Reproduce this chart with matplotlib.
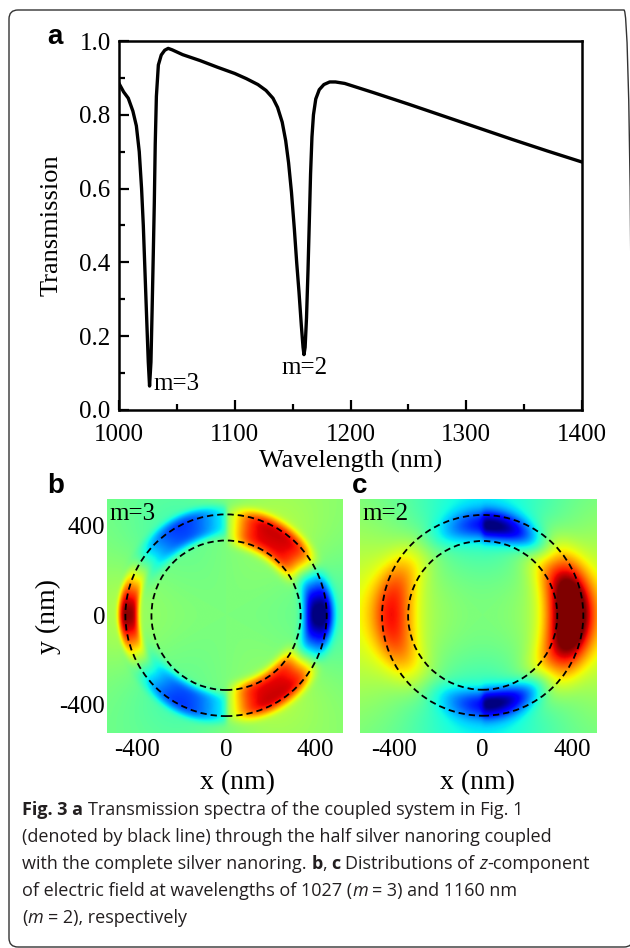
import numpy as np
import matplotlib
matplotlib.use("Agg")
import matplotlib.pyplot as plt
from matplotlib.patches import Circle, FancyBboxPatch

plt.rcParams['axes.unicode_minus'] = False

# Transmission spectrum (panel a)
wavelength = [1000, 1004, 1008, 1012, 1015, 1017.5, 1019.5, 1021, 1022.5, 1024,
              1025.3, 1026.4, 1027.6, 1028.6, 1029.6, 1030.5, 1031.3, 1032.3, 1034,
              1036.5, 1039.5, 1042.5, 1046, 1055, 1070, 1085, 1100, 1110, 1120,
              1127, 1133, 1137, 1141, 1144, 1146.5, 1149, 1151.5, 1153.5, 1155.5,
              1157.5, 1159, 1159.8, 1160.8, 1162, 1163.3, 1164.5, 1165.5, 1166.7,
              1168, 1170, 1173, 1177, 1182, 1187, 1195, 1220, 1250, 1280, 1310,
              1340, 1370, 1400]
transmission = [0.885, 0.862, 0.845, 0.81, 0.77, 0.70, 0.60, 0.50, 0.37, 0.24,
                0.13, 0.065, 0.13, 0.27, 0.42, 0.56, 0.72, 0.85, 0.935,
                0.962, 0.975, 0.98, 0.976, 0.963, 0.947, 0.929, 0.912, 0.898, 0.882,
                0.866, 0.845, 0.82, 0.78, 0.73, 0.67, 0.59, 0.49, 0.40, 0.32,
                0.23, 0.17, 0.15, 0.17, 0.25, 0.38, 0.52, 0.64, 0.74,
                0.80, 0.843, 0.868, 0.882, 0.889, 0.889, 0.885, 0.860, 0.829, 0.797, 0.765,
                0.733, 0.702, 0.672]

# ring geometry (nm)
r_inner = 335
r_outer = 452

# Ez lobes for m=3 (panel b): centre angle (deg), centre radius (nm),
# amplitude on the x>0 / x<0 side, angular and radial widths with their exponents
b_theta = [57, -57, 0, 117, -117, 180]
b_rad = [395, 395, 415, 420, 420, 440]
b_amp_right = [0.75, 0.75, -0.95, 0.0, 0.0, 0.85]
b_amp_left = [0.0, 0.0, -0.95, -0.5, -0.5, 0.85]
b_wth = [27, 27, 22, 30, 30, 22]
b_pth = [4, 4, 2, 2, 2, 2]
b_wr = [85, 85, 65, 70, 70, 45]
b_pr = [4, 4, 3, 4, 4, 4]
b_extent = (-536, 524, -530, 521)

# Ez lobes for m=2 (panel c)
c_theta = [0, 180, 82, -82]
c_rad = [390, 400, 400, 400]
c_amp_right = [1.1, 0.5, -0.8, -0.8]
c_amp_left = [1.1, 0.5, -0.5, -0.5]
c_wth = [45, 45, 35, 35]
c_pth = [2, 2, 2, 2]
c_wr = [100, 90, 65, 65]
c_pr = [2, 2, 2, 2]
c_extent = (-551, 512, -532, 524)

# weak mode tails away from the ring: (m, sign, inner amp, outer amp, decay length)
b_tail = (3, -1, 0.05, 0.15, 250)
c_tail = (2, 1, 0.20, 0.35, 350)

caption = [
    [("Fig. 3 a", "bold", "normal"), (" Transmission spectra of the coupled system in Fig. 1", "normal", "normal")],
    [("(denoted by black line) through the half silver nanoring coupled", "normal", "normal")],
    [("with the complete silver nanoring. ", "normal", "normal"), ("b", "bold", "normal"),
     (", ", "normal", "normal"), ("c", "bold", "normal"), (" Distributions of ", "normal", "normal"),
     ("z", "normal", "italic"), ("-component", "normal", "normal")],
    [("of electric field at wavelengths of 1027 (", "normal", "normal"), ("m", "normal", "italic"),
     (" = 3) and 1160 nm", "normal", "normal")],
    [("(", "normal", "normal"), ("m", "normal", "italic"), (" = 2), respectively", "normal", "normal")],
]

W, H = 630, 948


def fx(px):
    return px / W


def fy(py):
    return 1 - py / H


def field_map(extent, lobes, tail, n=360):
    x = np.linspace(extent[0], extent[1], n)
    y = np.linspace(extent[2], extent[3], n)
    X, Y = np.meshgrid(x, y)
    R = np.hypot(X, Y)
    T = np.degrees(np.arctan2(Y, X))
    m, sgn, a_in, a_out, L = tail
    prof = np.where(R < r_inner, a_in * (R / r_inner) ** 2,
                    np.where(R > r_outer, a_out * np.exp(-(R - r_outer) / L),
                             a_in + (a_out - a_in) * (R - r_inner) / (r_outer - r_inner)))
    F = sgn * np.cos(np.radians(m * T)) * prof
    right = 1 / (1 + np.exp(-X / 6))
    for t0, r0, ar, al, wt, pt, w, pr in zip(*lobes):
        d = (T - t0 + 180) % 360 - 180
        shape = np.exp(-np.abs(d / wt) ** pt) * np.exp(-np.abs((R - r0) / w) ** pr)
        F = F + (ar * right + al * (1 - right)) * shape
    return F


fig = plt.figure(figsize=(W / 100, H / 100), dpi=100)

serif = 'Liberation Serif'

# --- panel a ---
ax = fig.add_axes([fx(119), fy(410), fx(582) - fx(119), fy(41) - fy(410)])
ax.plot(wavelength, transmission, color='black', lw=2.4)
ax.set_xlim(1000, 1400)
ax.set_ylim(0, 1.0)
ax.set_xticks([1000, 1100, 1200, 1300, 1400])
ax.set_xticks([1050, 1150, 1250, 1350], minor=True)
ax.set_yticks([0.0, 0.2, 0.4, 0.6, 0.8, 1.0])
ax.set_yticks([0.1, 0.3, 0.5, 0.7, 0.9], minor=True)
ax.set_yticklabels(['0.0', '0.2', '0.4', '0.6', '0.8', '1.0'])
ax.tick_params(which='both', direction='in', top=False, right=False, width=1.6,
               labelsize=18)
ax.tick_params(axis='x', pad=10)
ax.tick_params(axis='y', pad=6)
ax.tick_params(which='major', length=7)
ax.tick_params(which='minor', length=4.5)
for lab in ax.get_xticklabels() + ax.get_yticklabels():
    lab.set_family(serif)
for sp in ax.spines.values():
    sp.set_linewidth(1.8)
ax.set_xlabel('Wavelength (nm)', family=serif, fontsize=19, labelpad=3)
ax.set_ylabel('Transmission', family=serif, fontsize=19, labelpad=12)
ax.text(1030, 0.07, 'm=3', family=serif, fontsize=18, ha='left', va='center')
ax.text(1160, 0.115, 'm=2', family=serif, fontsize=18, ha='center', va='center')

# --- panels b and c ---
panels = [
    (106.7, 342.7, b_extent,
     (b_theta, b_rad, b_amp_right, b_amp_left, b_wth, b_pth, b_wr, b_pr), b_tail, 'm=3', True, 238),
    (360.0, 596.7, c_extent,
     (c_theta, c_rad, c_amp_right, c_amp_left, c_wth, c_pth, c_wr, c_pr), c_tail, 'm=2', False, 478),
]
for left, right, ext, lobes, tail, tag, show_y, xlab_px in panels:
    axf = fig.add_axes([fx(left), fy(733.5), fx(right) - fx(left), fy(499) - fy(733.5)])
    F = field_map(ext, lobes, tail)
    axf.imshow(F, origin='lower', extent=ext, cmap='jet', vmin=-1, vmax=1,
               interpolation='bilinear', aspect='auto')
    for r in (r_inner, r_outer):
        axf.add_patch(Circle((0, 0), r, fill=False, color='black', lw=1.3,
                             linestyle=(0, (3.5, 2.2))))
    axf.set_xlim(ext[0], ext[1])
    axf.set_ylim(ext[2], ext[3])
    for sp in axf.spines.values():
        sp.set_visible(False)
    axf.set_xticks([-400, 0, 400])
    axf.tick_params(length=0, labelsize=18)
    axf.tick_params(axis='x', pad=4)
    axf.tick_params(axis='y', pad=1)
    if show_y:
        axf.set_yticks([-400, 0, 400])
        axf.set_ylabel('y (nm)', family=serif, fontsize=20, labelpad=-1)
    else:
        axf.set_yticks([])
    for lab in axf.get_xticklabels() + axf.get_yticklabels():
        lab.set_family(serif)
    fig.text(fx(xlab_px), fy(789), 'x (nm)', family=serif, fontsize=20,
             ha='center', va='baseline')
    axf.text(0.01, 0.985, tag, transform=axf.transAxes, family=serif, fontsize=18,
             ha='left', va='top')

# panel letters
for letter, px, py in [('a', 47, 44), ('b', 47, 493), ('c', 352, 493)]:
    fig.text(fx(px), fy(py), letter, family='Liberation Sans', weight='bold',
             fontsize=20, va='baseline')

# caption, laid out segment by segment
renderer = fig.canvas.get_renderer()
cap_font = 'Open Sans'
cap_size = 13


def seg_width(s, **kw):
    # advance width of s, measured between two bars so bearings and spaces count
    t = fig.text(0, 0, '|' + s + '|', **kw)
    w1 = t.get_window_extent(renderer).width
    t.set_text('||')
    w0 = t.get_window_extent(renderer).width
    t.remove()
    return (w1 - w0) / W


for i, parts in enumerate(caption):
    x = fx(22)
    y = fy(815 + 26.9 * i)
    for s, weight, style in parts:
        kw = dict(family=cap_font, fontsize=cap_size, weight=weight, style=style)
        core = s.strip(' ')
        lead = s[:len(s) - len(s.lstrip(' '))]
        x_draw = x + (seg_width(lead, **kw) if lead else 0)
        fig.text(x_draw, y, core, va='baseline', color='#231f20', **kw)
        x += seg_width(s, **kw)

# rounded frame around the whole figure
frame = FancyBboxPatch((9 / 100, 1.0 / 100), (633 - 9) / 100, (H - 11) / 100,
                       boxstyle='round,pad=0,rounding_size=0.09',
                       transform=fig.dpi_scale_trans, fill=False,
                       edgecolor='#333333', lw=1.0)
fig.add_artist(frame)

fig.savefig('out.png', dpi=100)
